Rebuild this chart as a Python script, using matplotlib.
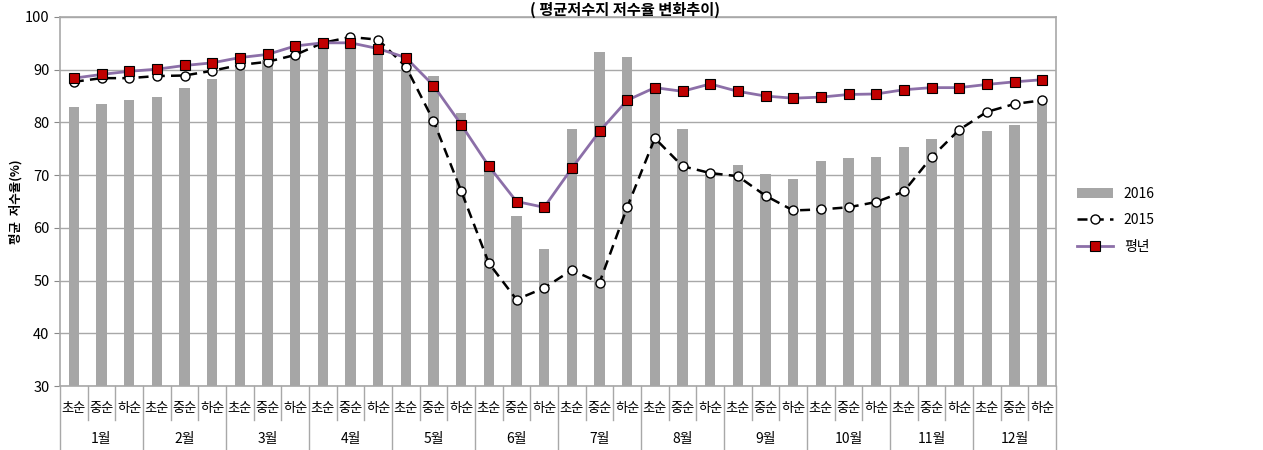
import matplotlib
matplotlib.use("Agg")
import matplotlib.pyplot as plt
import numpy as np

plt.rcParams['font.family'] = ['Noto Sans CJK KR', 'DejaVu Sans']

# 순별 구분과 월
periods = ["초순", "중순", "하순"]
months = ["1월", "2월", "3월", "4월", "5월", "6월", "7월", "8월", "9월", "10월", "11월", "12월"]

# 2016 평균 저수율(%)
rate_2016 = [83.0, 83.5, 84.2, 84.8, 86.6, 88.3, 90.5, 91.8, 93.0, 94.0, 94.0, 94.3,
             92.0, 88.9, 81.8, 70.9, 62.2, 55.9, 78.7, 93.4, 92.4, 86.8, 78.7, 70.5,
             72.0, 70.3, 69.3, 72.6, 73.3, 73.5, 75.4, 76.8, 78.2, 78.3, 79.6, 84.3]
# 2015
rate_2015 = [87.7, 88.4, 88.4, 88.8, 88.9, 89.8, 90.9, 91.5, 92.8, 95.1, 96.2, 95.7,
             90.6, 80.3, 67.0, 53.3, 46.4, 48.6, 52.0, 49.6, 63.9, 77.0, 71.7, 70.4,
             69.8, 66.1, 63.3, 63.5, 63.9, 64.9, 66.9, 73.4, 78.6, 82.0, 83.5, 84.2]
# 평년
rate_normal = [88.4, 89.1, 89.7, 90.1, 90.8, 91.3, 92.3, 92.9, 94.5, 95.1, 95.1, 94.0,
               92.3, 87.0, 79.6, 71.7, 65.0, 63.9, 71.3, 78.3, 84.2, 86.6, 85.9, 87.3,
               85.9, 85.0, 84.6, 84.8, 85.3, 85.4, 86.2, 86.6, 86.6, 87.2, 87.7, 88.1]

x = np.arange(len(rate_2016))

fig = plt.figure(figsize=(12.63, 4.5), dpi=100)
ax = fig.add_axes([60/1263, 1 - 386/450, 996/1263, 369/450])

b = ax.bar(x, np.array(rate_2016) - 30, bottom=30, width=0.37, color="#A6A6A6", label="2016", zorder=2)
l1, = ax.plot(x, rate_2015, ls=(0, (4, 2.5)), color="black", lw=1.8, marker="o", ms=6.5,
              mfc="white", mec="black", mew=1, label="2015", zorder=3)
l2, = ax.plot(x, rate_normal, ls="-", color="#8C6FA8", lw=2, marker="s", ms=7,
              mfc="#C00000", mec="black", mew=0.8, label="평년", zorder=4)

ax.set_xlim(-0.5, len(x) - 0.5)
ax.set_ylim(30, 100)
ax.set_yticks(range(30, 101, 10))
ax.tick_params(axis="y", labelsize=10.5, length=4, color="#888888")
ax.set_xticks([])
ax.grid(axis="y", color="#A8A8A8", lw=1, zorder=0)
for s in ax.spines.values():
    s.set_color("#A8A8A8")
    s.set_linewidth(1.2)

ax.set_ylabel("평균  저수율(%)", fontsize=9, fontweight="bold")
ax.yaxis.set_label_coords(-0.038, 0.5)

# 두 줄짜리 x축 라벨
trans = ax.get_xaxis_transform()
for i in x:
    ax.text(i, -0.06, periods[i % 3], transform=trans, ha="center", va="center", fontsize=9.5)
    if i > 0 and i % 3 != 0:
        ax.plot([i - 0.5, i - 0.5], [0, -0.092], transform=trans, color="#A8A8A8", lw=1, clip_on=False)
for m in range(len(months) + 1):
    ax.plot([3 * m - 0.5, 3 * m - 0.5], [0, -0.18], transform=trans, color="#A8A8A8", lw=1, clip_on=False)
    if m < len(months):
        ax.text(3 * m + 1, -0.143, months[m], transform=trans, ha="center", va="center", fontsize=10)

fig.text(0.495, 0.997, "( 평균저수지 저수율 변화추이)", ha="center", va="top", fontsize=11, fontweight="bold")

fig.legend([b, l1, l2], ["2016", "2015", "평년"], loc="center left",
           bbox_to_anchor=(1064/1263, 1 - 220/450), frameon=False,
           fontsize=10, handlelength=2.6, labelspacing=0.9)

fig.savefig("out.png", dpi=100)
